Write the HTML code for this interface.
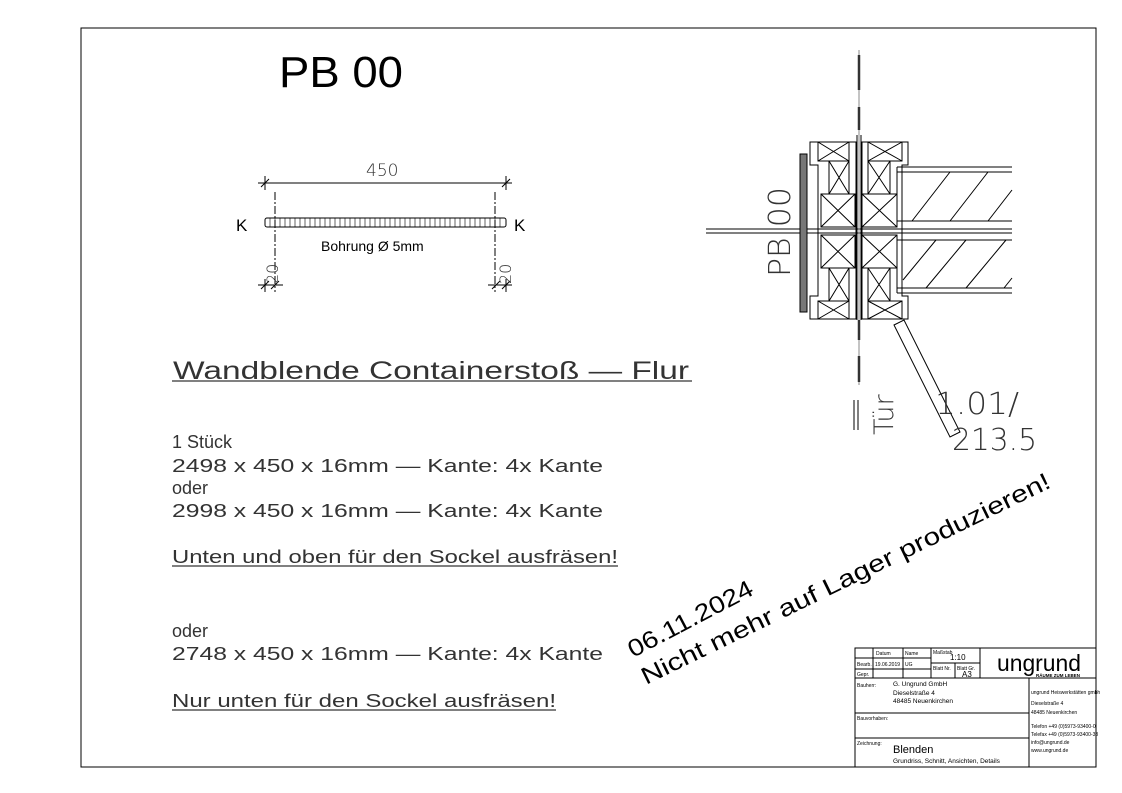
<!DOCTYPE html>
<html><head><meta charset="utf-8"><style>
html,body{margin:0;padding:0;background:#fff;}
svg{display:block;}
text{font-family:"Liberation Sans","DejaVu Sans",sans-serif;}
.t{font-family:"DejaVu Sans","Liberation Sans",sans-serif;font-weight:200;fill:#333;}
</style></head><body>
<svg width="1122" height="793" viewBox="0 0 1122 793" xmlns="http://www.w3.org/2000/svg">
<rect x="0" y="0" width="1122" height="793" fill="#fff"/>
<rect x="81" y="28" width="1015" height="739" fill="none" stroke="#000" stroke-width="1"/>

<text x="279" y="87" font-size="44" textLength="124" lengthAdjust="spacingAndGlyphs">PB 00</text>

<g stroke="#000" stroke-width="1" fill="none">
<line x1="258" y1="183" x2="512" y2="183"/>
<line x1="265" y1="176" x2="265" y2="190"/><line x1="261" y1="187" x2="269" y2="179"/>
<line x1="506" y1="176" x2="506" y2="190"/><line x1="502" y1="187" x2="510" y2="179"/>
<rect x="265" y="218" width="241" height="9" rx="2"/>
<line x1="275" y1="192" x2="275" y2="292" stroke-dasharray="8,2,2,2"/>
<line x1="495" y1="192" x2="495" y2="292" stroke-dasharray="8,2,2,2"/>
<line x1="258" y1="285" x2="283" y2="285"/><line x1="488" y1="285" x2="512" y2="285"/>
<line x1="265" y1="279" x2="265" y2="292"/><line x1="261" y1="289" x2="269" y2="281"/><line x1="271" y1="289" x2="279" y2="281"/>
<line x1="506" y1="279" x2="506" y2="292"/><line x1="492" y1="289" x2="500" y2="281"/><line x1="502" y1="289" x2="510" y2="281"/>
</g>
<g stroke="#000" stroke-width="0.6">
<path d="M270 218V227M275 218V227M280 218V227M285 218V227M290 218V227M295 218V227M300 218V227M305 218V227M310 218V227M315 218V227M320 218V227M325 218V227M330 218V227M335 218V227M340 218V227M345 218V227M350 218V227M355 218V227M360 218V227M365 218V227M370 218V227M375 218V227M380 218V227M385 218V227M390 218V227M395 218V227M400 218V227M405 218V227M410 218V227M415 218V227M420 218V227M425 218V227M430 218V227M435 218V227M440 218V227M445 218V227M450 218V227M455 218V227M460 218V227M465 218V227M470 218V227M475 218V227M480 218V227M485 218V227M490 218V227M495 218V227M500 218V227"/>
</g>
<text x="366" y="176" font-size="17" class="t">450</text>
<text x="236" y="231" font-size="17">K</text>
<text x="514" y="231" font-size="17">K</text>
<text x="321" y="251" font-size="14">Bohrung Ø 5mm</text>
<text class="t" font-size="16" transform="translate(278,284) rotate(-90)">20</text>
<text class="t" font-size="16" transform="translate(511,284) rotate(-90)">20</text>

<g class="t">
<text x="173" y="379" font-size="25" textLength="516" lengthAdjust="spacingAndGlyphs">Wandblende Containerstoß — Flur</text>
<text x="172" y="448" font-size="18">1 Stück</text>
<text x="172" y="472" font-size="18" textLength="431" lengthAdjust="spacingAndGlyphs">2498 x 450 x 16mm — Kante: 4x Kante</text>
<text x="172" y="494" font-size="18">oder</text>
<text x="172" y="517" font-size="18" textLength="431" lengthAdjust="spacingAndGlyphs">2998 x 450 x 16mm — Kante: 4x Kante</text>
<text x="172" y="563" font-size="18" textLength="446" lengthAdjust="spacingAndGlyphs">Unten und oben für den Sockel ausfräsen!</text>
<text x="172" y="637" font-size="18">oder</text>
<text x="172" y="660" font-size="18" textLength="431" lengthAdjust="spacingAndGlyphs">2748 x 450 x 16mm — Kante: 4x Kante</text>
<text x="172" y="707" font-size="18" textLength="384" lengthAdjust="spacingAndGlyphs">Nur unten für den Sockel ausfräsen!</text>
</g>
<g stroke="#000" stroke-width="1">
<line x1="172" y1="381" x2="692" y2="381"/>
<line x1="172" y1="566" x2="618" y2="566"/>
<line x1="172" y1="710" x2="556" y2="710"/>
</g>

<text font-size="24" transform="translate(633,658) rotate(-27.7)" textLength="138" lengthAdjust="spacingAndGlyphs" fill="#000">06.11.2024</text>
<text font-size="24" transform="translate(646,685) rotate(-26)" textLength="452" lengthAdjust="spacingAndGlyphs" fill="#000">Nicht mehr auf Lager produzieren!</text>

<g stroke="#000" stroke-width="1" fill="none">
<line x1="706" y1="229" x2="1012" y2="229"/>
<line x1="706" y1="233" x2="1012" y2="233"/>
</g>
<g stroke="#888" stroke-width="1">
<line x1="859" y1="50" x2="859" y2="385"/>
</g>
<g stroke="#333" stroke-width="2.5">
<line x1="859" y1="55" x2="859" y2="90"/>
<line x1="859" y1="107" x2="859" y2="130"/>
<line x1="859" y1="320" x2="859" y2="340"/>
<line x1="859" y1="356" x2="859" y2="382"/>
</g>
<g stroke="#000" stroke-width="1">
<line x1="857" y1="135" x2="857" y2="320"/><line x1="861" y1="135" x2="861" y2="320"/>
</g>
<rect x="800" y="154" width="7" height="158" fill="#777" stroke="#000" stroke-width="1"/>
<g stroke="#000" stroke-width="1" fill="#fff">
<path d="M810 142H856V319H810V296H818V165H810Z" fill="none"/>
<path d="M810 142V165H818M810 319V296H818"/>
<rect x="818" y="142" width="31" height="19"/><path d="M818 142L849 161M849 142L818 161"/>
<rect x="829" y="161" width="20" height="33"/><path d="M829 161L849 194M849 161L829 194"/>
<rect x="821" y="194" width="34" height="33"/><path d="M821 194L855 227M855 194L821 227"/>
<rect x="821" y="235" width="34" height="33"/><path d="M821 235L855 268M855 235L821 268"/>
<rect x="829" y="268" width="20" height="33"/><path d="M829 268L849 301M849 268L829 301"/>
<rect x="818" y="301" width="31" height="18"/><path d="M818 301L849 319M849 301L818 319"/>
<path d="M862 142H908V165H902V296H908V319H862Z" fill="none"/>
<rect x="868" y="142" width="34" height="19"/><path d="M868 142L902 161M902 142L868 161"/>
<rect x="868" y="161" width="22" height="33"/><path d="M868 161L890 194M890 161L868 194"/>
<rect x="862" y="194" width="35" height="33"/><path d="M862 194L897 227M897 194L862 227"/>
<rect x="862" y="235" width="35" height="33"/><path d="M862 235L897 268M897 235L862 268"/>
<rect x="868" y="268" width="22" height="33"/><path d="M868 268L890 301M890 268L868 301"/>
<rect x="868" y="301" width="34" height="18"/><path d="M868 301L902 319M902 301L868 319"/>
</g>
<g stroke="#000" stroke-width="1" fill="none">
<path d="M897 167H1012M897 172H1012M897 221H1012M897 167V221"/>
<path d="M897 240H1012M897 288H1012M897 293H1012M897 240V293"/>
<path d="M912 221L950 172M950 221L988 172M988 221L1012 190"/>
<path d="M903 280L936 240M926 288L966 240M966 288L1006 240M1004 288L1012 278"/>
<path d="M894 325L904 320L960 432L950 437Z"/>
<line x1="854" y1="400" x2="854" y2="430"/><line x1="858" y1="400" x2="858" y2="430"/>
</g>
<text class="t" font-size="30" transform="translate(790,277) rotate(-90)" textLength="90" lengthAdjust="spacingAndGlyphs">PB 00</text>
<text class="t" font-size="27" transform="translate(893,435) rotate(-90)">Tür</text>
<text class="t" font-size="30" x="935" y="414" textLength="84" lengthAdjust="spacingAndGlyphs">1.01/</text>
<text class="t" font-size="30" x="952" y="450" textLength="85" lengthAdjust="spacingAndGlyphs">213.5</text>

<g stroke="#000" stroke-width="1" fill="none">
<rect x="855" y="648" width="241" height="119"/>
<path d="M855 658H931M855 669H931M855 678H1096M931 663H980M931 648V678M873 648V678M903 648V678M955 663V678M980 648V678"/>
<path d="M855 713H1029M855 738H1029M1029 678V767"/>
</g>
<g font-size="5" fill="#000">
<text x="876" y="655">Datum</text><text x="905" y="655">Name</text><text x="933" y="654">Maßstab</text>
<text x="857" y="666">Bearb.</text><text x="875" y="666">19.06.2019</text><text x="905" y="666">UG</text>
<text x="857" y="676">Gepr.</text><text x="933" y="670">Blatt Nr.</text><text x="957" y="670">Blatt Gr.</text>
<text x="857" y="687">Bauherr:</text><text x="857" y="720">Bauvorhaben:</text><text x="857" y="745">Zeichnung:</text>
<text x="1031" y="694">ungrund Heiswerkstätten gmbh</text><text x="1031" y="705">Dieselstraße 4</text><text x="1031" y="714">48485 Neuenkirchen</text>
<text x="1031" y="728">Telefon +49 (0)5973-93400-0</text><text x="1031" y="736">Telefax +49 (0)5973-93400-33</text>
<text x="1031" y="744">info@ungrund.de</text><text x="1031" y="752">www.ungrund.de</text>
</g>
<g font-size="6.5" fill="#000">
<text x="893" y="686">G. Ungrund GmbH</text><text x="893" y="695">Dieselstraße 4</text><text x="893" y="703">48485 Neuenkirchen</text>
<text x="893" y="763">Grundriss, Schnitt, Ansichten, Details</text>
</g>
<text x="950" y="660" font-size="8">1:10</text>
<text x="962" y="677" font-size="8">A3</text>
<text x="893" y="753" font-size="11">Blenden</text>
<text x="997" y="671" font-size="23" textLength="84" lengthAdjust="spacingAndGlyphs">ungrund</text>
<text x="1036" y="677" font-size="4.5" font-weight="bold">RÄUME ZUM LEBEN</text>
</svg>
</body></html>
